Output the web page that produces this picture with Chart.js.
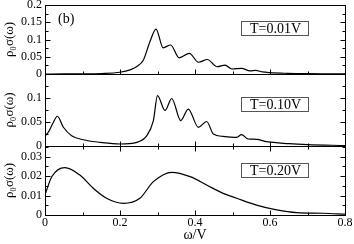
<!DOCTYPE html>
<html>
<head>
<meta charset="utf-8">
<script src="https://cdn.jsdelivr.net/npm/chart.js@4.4.0/dist/chart.umd.min.js"></script>
<style>
  html, body { margin: 0; padding: 0; background: #fff; }
  #wrap { width: 354px; height: 244px; position: relative; }
</style>
</head>
<body>
<div id="wrap"><canvas id="c"></canvas></div>
<script>
// T = 0.01V
const omega1 = [0, 0.05, 0.1, 0.15, 0.2, 0.227, 0.245, 0.262, 0.28, 0.296, 0.315, 0.335, 0.358, 0.385, 0.409, 0.433, 0.459, 0.48, 0.498, 0.524, 0.547, 0.562, 0.58, 0.6, 0.645, 0.7, 0.75, 0.8]
const sigma1 = [0, 0.0002, 0.0005, 0.0015, 0.005, 0.012, 0.022, 0.04, 0.094, 0.130, 0.076, 0.084, 0.047, 0.060, 0.034, 0.042, 0.021, 0.026, 0.0145, 0.0165, 0.009, 0.0105, 0.006, 0.004, 0.002, 0.0008, 0.0004, 0.0002]

// T = 0.10V
const omega2 = [0, 0.009, 0.022, 0.033, 0.049, 0.071, 0.102, 0.147, 0.2, 0.245, 0.271, 0.289, 0.3, 0.32, 0.338, 0.362, 0.382, 0.409, 0.431, 0.449, 0.475, 0.511, 0.524, 0.542, 0.564, 0.591, 0.65, 0.7, 0.8]
const sigma2 = [0.021, 0.029, 0.049, 0.062, 0.039, 0.0215, 0.013, 0.0077, 0.0042, 0.0077, 0.021, 0.053, 0.105, 0.074, 0.099, 0.053, 0.077, 0.039, 0.051, 0.025, 0.020, 0.018, 0.0235, 0.0146, 0.014, 0.009, 0.005, 0.003, 0.001]

// T = 0.20V
const omega3 = [0, 0.018, 0.053, 0.093, 0.129, 0.164, 0.209, 0.253, 0.289, 0.338, 0.387, 0.431, 0.475, 0.511, 0.564, 0.618, 0.671, 0.742, 0.8]
const sigma3 = [0.0103, 0.0196, 0.0243, 0.0205, 0.0137, 0.0086, 0.006, 0.0086, 0.0171, 0.0219, 0.0197, 0.0154, 0.0111, 0.0086, 0.0051, 0.0026, 0.0012, 0.0009, 0.0004]

const panelLabels = ['T=0.01V', 'T=0.10V', 'T=0.20V']
const yMax = [0.2, 0.15, 0.0354]
const yTicks1 = [0, 0.05, 0.1, 0.15, 0.2]
const yTicks2 = [0, 0.05, 0.1]
const yTicks3 = [0, 0.01, 0.02, 0.03]
const xTicks = [0, 0.2, 0.4, 0.6, 0.8]

const serif = "'Liberation Serif', 'DejaVu Serif', serif"
const tickFont = { family: serif, size: 12 }

// minor / major tick steps per panel, panel height weight, legend box offset
const panelStyle = [
    { minor: 0.025, major: 0.05, weight: 69, boxTop: 16 },
    { minor: 0.025, major: 0.05, weight: 72, boxTop: 23 },
    { minor: 0.005, major: 0.01, weight: 69, boxTop: 17 }
]

function pairs(xs, ys) {
    return xs.map((x, i) => ({ x: x, y: ys[i] }))
}

function yScale(max, ticks, weight) {
    return {
        type: 'linear',
        position: 'left',
        stack: 'panels',
        stackWeight: weight,
        min: 0,
        max: max,
        grid: { display: false, drawTicks: false },
        border: { display: false },
        afterBuildTicks: s => { s.ticks = ticks.map(v => ({ value: v })) },
        afterFit: s => { s.width = 45; s.paddingTop = 0; s.paddingBottom = 0 },
        ticks: { font: tickFont, color: '#000', padding: 3, autoSkip: false, callback: v => String(v) },
        title: { display: true, text: 'ρ₀σ(ω)', font: { family: serif, size: 13 }, color: '#000', padding: { top: 2, bottom: 0 } }
    }
}

const frame = {
    id: 'frame',
    afterDraw(chart) {
        const ctx = chart.ctx
        const ca = chart.chartArea
        const xs = chart.scales.x
        ctx.save()
        ctx.strokeStyle = '#000'
        ctx.fillStyle = '#000'
        ctx.lineWidth = 1
        panelStyle.forEach((p, i) => {
            const s = chart.scales['y' + (i + 1)]
            const top = Math.round(s.top) + 0.5
            const bot = Math.round(s.bottom) + 0.5
            const left = Math.round(ca.left) + 0.5
            const right = Math.round(ca.right) + 0.5
            ctx.strokeRect(left, top, right - left, bot - top)
            ctx.beginPath()
            const n = Math.floor(s.max / p.minor + 1e-6)
            for (let k = 1; k <= n; k++) {
                const v = k * p.minor
                const y = Math.round(s.getPixelForValue(v)) + 0.5
                const len = Math.abs(v / p.major - Math.round(v / p.major)) < 1e-6 ? 5 : 3
                ctx.moveTo(left, y); ctx.lineTo(left + len, y)
                ctx.moveTo(right, y); ctx.lineTo(right - len, y)
            }
            for (let k = 1; k < 8; k++) {
                const x = Math.round(xs.getPixelForValue(k * 0.1)) + 0.5
                const len = k % 2 === 0 ? 5 : 3
                ctx.moveTo(x, bot); ctx.lineTo(x, bot - len)
                if (i === 2) { ctx.moveTo(x, top); ctx.lineTo(x, top + len) }
            }
            ctx.stroke()

            // legend box
            ctx.font = '14px ' + serif
            const bx = 241, bw = 67, bh = 14
            const by = Math.round(s.top) + p.boxTop
            ctx.fillStyle = '#fff'
            ctx.fillRect(bx, by, bw, bh)
            ctx.strokeStyle = '#555'
            ctx.strokeRect(bx + 0.5, by + 0.5, bw, bh)
            ctx.fillStyle = '#000'
            ctx.textAlign = 'center'
            ctx.textBaseline = 'middle'
            ctx.fillText(panelLabels[i], bx + bw / 2 + 1, by + bh / 2 + 1)
            ctx.strokeStyle = '#000'
        })

        // x tick labels, placed through the x scale
        ctx.fillStyle = '#000'
        ctx.font = '12px ' + serif
        ctx.textAlign = 'center'
        ctx.textBaseline = 'middle'
        xTicks.forEach(v => {
            ctx.fillText(String(v), xs.getPixelForValue(v), xs.top + 8)
        })

        const s1 = chart.scales.y1
        ctx.font = '14px ' + serif
        ctx.textAlign = 'left'
        ctx.fillText('(b)', ca.left + 13, s1.top + 14)
        ctx.restore()
    }
}

const line = { borderColor: '#000', borderWidth: 1.2, pointRadius: 0, fill: false, cubicInterpolationMode: 'monotone' }

new Chart(document.getElementById('c'), {
    type: 'line',
    data: {
        datasets: [
            Object.assign({ label: panelLabels[0], data: pairs(omega1, sigma1), yAxisID: 'y1' }, line),
            Object.assign({ label: panelLabels[1], data: pairs(omega2, sigma2), yAxisID: 'y2' }, line),
            Object.assign({ label: panelLabels[2], data: pairs(omega3, sigma3), yAxisID: 'y3' }, line)
        ]
    },
    options: {
        responsive: true,
        maintainAspectRatio: false,
        animation: false,
        layout: { padding: { top: 5, right: 9, left: 0, bottom: 0 } },
        plugins: { legend: { display: false }, tooltip: { enabled: false } },
        scales: {
            x: {
                type: 'linear',
                position: 'bottom',
                min: 0,
                max: 0.8,
                grid: { display: false, drawTicks: false },
                border: { display: false },
                afterBuildTicks: s => { s.ticks = xTicks.map(v => ({ value: v })) },
                afterFit: s => { s.height = 29; s.paddingLeft = 0; s.paddingRight = 0 },
                ticks: { display: false },
                title: { display: true, text: 'ω/V', font: { family: serif, size: 14 }, color: '#000', padding: { top: 0, bottom: 0 } }
            },
            y3: yScale(yMax[2], yTicks3, panelStyle[2].weight),
            y2: yScale(yMax[1], yTicks2, panelStyle[1].weight),
            y1: yScale(yMax[0], yTicks1, panelStyle[0].weight)
        }
    },
    plugins: [frame]
})
</script>
</body>
</html>
